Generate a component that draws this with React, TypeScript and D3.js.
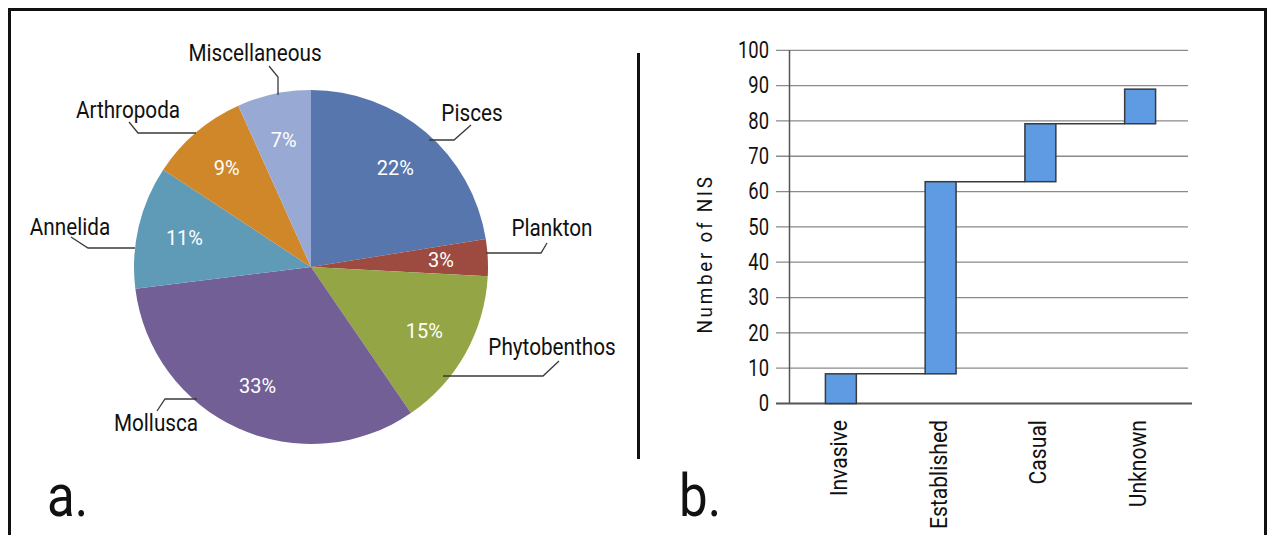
import React from "react";
import * as d3 from "d3";

// ---- data ----
const groups = ["Pisces", "Plankton", "Phytobenthos", "Mollusca", "Annelida", "Arthropoda", "Miscellaneous"];
const groupCounts = [20, 3, 13, 29, 10, 8, 6];
const groupColors = ["#5676ad", "#9d4a40", "#93a545", "#725f96", "#5f9bb6", "#cf8729", "#98a9d3"];

const statuses = ["Invasive", "Established", "Casual", "Unknown"];
const statusIncrements = [8.4, 54.4, 16.4, 9.8];
const yTicks = [0, 10, 20, 30, 40, 50, 60, 70, 80, 90, 100];

// ---- layout (annotation placement, not data) ----
const labelLayout: Record<string, { t: [number, number]; l: [number, number][] }> = {
  Miscellaneous: { t: [255, 53], l: [[269, 66], [278, 77], [278, 95]] },
  Pisces: { t: [472, 113], l: [[471, 125], [454, 140], [429, 140]] },
  Plankton: { t: [552, 228], l: [[547, 243], [541, 253], [486, 253]] },
  Phytobenthos: { t: [552, 347], l: [[559, 361], [543, 376], [443, 376]] },
  Mollusca: { t: [156, 423], l: [[157, 411], [165, 399], [197, 399]] },
  Annelida: { t: [70, 227], l: [[71, 237], [88, 248], [135, 248]] },
  Arthropoda: { t: [128, 110], l: [[129, 122], [138, 133], [196, 133]] },
};

const FONT = "Roboto, 'Noto Sans', sans-serif";

function T(props: {
  x: number; y: number; rot?: number; sx?: number; size: number; anchor?: string;
  fill?: string; baseline?: string; ls?: number; children: React.ReactNode;
}) {
  const { x, y, rot = 0, sx = 1, size, anchor = "start", fill = "#111", baseline = "auto", ls = 0 } = props;
  return (
    <text
      transform={`translate(${x},${y}) rotate(${rot}) scale(${sx},1)`}
      fontSize={size}
      textAnchor={anchor}
      dominantBaseline={baseline}
      fill={fill}
      letterSpacing={ls}
    >
      {props.children}
    </text>
  );
}

export default function App() {
  const cx = 311, cy = 267, R = 177;
  const total = d3.sum(groupCounts);
  const pie = d3.pie<number>().sort(null).value((d) => d)(groupCounts);
  const arc = d3.arc<d3.PieArcDatum<number>>().innerRadius(0).outerRadius(R);
  const labelArc = d3.arc<d3.PieArcDatum<number>>().innerRadius(130).outerRadius(130);

  // waterfall
  const x = d3.scaleBand<string>().domain(statuses).range([791, 1190]).paddingInner(0.69).paddingOuter(0.345);
  const y = d3.scaleLinear().domain([0, 100]).range([403.5, 50.3]);
  const ends: number[] = [];
  let acc = 0;
  statusIncrements.forEach((v) => { acc += v; ends.push(acc); });
  const starts = ends.map((e, i) => e - statusIncrements[i]);
  const axisX = 789.5;

  return (
    <svg width={1269} height={535} style={{ position: "absolute", left: 0, top: 0, background: "#fff" }} fontFamily={FONT}>
      <rect x={0} y={0} width={1269} height={535} fill="#fff" />
      {/* frame */}
      <rect x={9.5} y={9.5} width={1256} height={600} fill="none" stroke="#111" strokeWidth={3} />
      <line x1={638.5} x2={638.5} y1={53} y2={459} stroke="#111" strokeWidth={3} />

      {/* pie */}
      <g transform={`translate(${cx},${cy})`}>
        {pie.map((p, i) => (
          <path key={i} d={arc(p) || ""} fill={groupColors[i]} />
        ))}
        {pie.map((p, i) => {
          const [lx, ly] = labelArc.centroid(p);
          return (
            <T key={"p" + i} x={lx} y={ly} size={21} sx={0.95} fill="#fff" anchor="middle" baseline="central">
              {Math.round((groupCounts[i] / total) * 100)}%
            </T>
          );
        })}
      </g>
      {groups.map((g) => {
        const lay = labelLayout[g];
        return (
          <g key={g}>
            <polyline points={lay.l.map((p) => p.join(",")).join(" ")} fill="none" stroke="#3a3a3a" strokeWidth={1.3} />
            <T x={lay.t[0]} y={lay.t[1]} size={23} sx={0.9} anchor="middle" baseline="central">
              {g}
            </T>
          </g>
        );
      })}
      <T x={47} y={516} size={60} sx={0.85}>a.</T>

      {/* bar chart */}
      {yTicks.map((t) => (
        <g key={t}>
          <line x1={776} x2={t === 0 ? 1192 : 1188} y1={y(t)} y2={y(t)} stroke={t === 0 ? "#555" : "#8a8a8a"} strokeWidth={t === 0 ? 2 : 1.3} />
          <T x={769} y={y(t)} size={23} sx={0.8} anchor="end" baseline="central">{t}</T>
        </g>
      ))}
      <line x1={axisX} x2={axisX} y1={y(100)} y2={y(0)} stroke="#555" strokeWidth={1.5} />
      {statuses.slice(0, -1).map((s, i) => (
        <line key={"c" + s} x1={(x(s) || 0) + x.bandwidth()} x2={x(statuses[i + 1]) || 0} y1={y(ends[i])} y2={y(ends[i])} stroke="#3a3a3a" strokeWidth={1.5} />
      ))}
      {statuses.map((s, i) => (
        <rect key={s} x={x(s)} y={y(ends[i])} width={x.bandwidth()} height={y(starts[i]) - y(ends[i])} fill="#5e9be2" stroke="#3a3a3a" strokeWidth={1.5} />
      ))}
      {statuses.map((s) => (
        <T key={"t" + s} x={(x(s) || 0) + x.bandwidth() / 2 - 2} y={420} rot={-90} size={24} sx={0.88} anchor="end" baseline="central">
          {s}
        </T>
      ))}
      <T x={705} y={254} rot={-90} size={21} sx={0.9} ls={3} anchor="middle" baseline="central">
        Number of NIS
      </T>
      <T x={679} y={516} size={60} sx={0.85}>b.</T>
    </svg>
  );
}
